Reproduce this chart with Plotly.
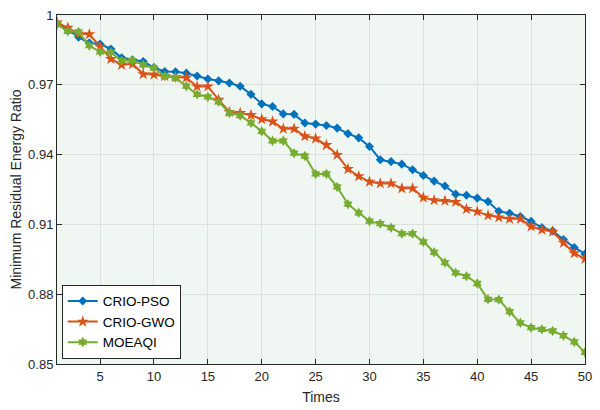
import plotly.graph_objects as go

times = list(range(1, 51))

crio_pso = [0.9962, 0.9938, 0.9905, 0.9880, 0.9875, 0.9854, 0.9816, 0.9807, 0.9800, 0.9774,
            0.9757, 0.9756, 0.9750, 0.9738, 0.9725, 0.9717, 0.9708, 0.9694, 0.9659, 0.9618,
            0.9607, 0.9575, 0.9573, 0.9536, 0.9531, 0.9525, 0.9514, 0.9490, 0.9472, 0.9435,
            0.9378, 0.9370, 0.9359, 0.9335, 0.9310, 0.9286, 0.9265, 0.9230, 0.9225, 0.9213,
            0.9198, 0.9156, 0.9148, 0.9134, 0.9113, 0.9086, 0.9072, 0.9035, 0.9001, 0.8973]

crio_gwo = [0.9968, 0.9945, 0.9920, 0.9917, 0.9864, 0.9811, 0.9786, 0.9789, 0.9746, 0.9744,
            0.9737, 0.9733, 0.9730, 0.9693, 0.9693, 0.9636, 0.9583, 0.9579, 0.9570, 0.9552,
            0.9542, 0.9511, 0.9511, 0.9479, 0.9469, 0.9441, 0.9399, 0.9338, 0.9307, 0.9283,
            0.9276, 0.9276, 0.9255, 0.9255, 0.9215, 0.9204, 0.9201, 0.9197, 0.9166, 0.9155,
            0.9139, 0.9130, 0.9124, 0.9124, 0.9091, 0.9077, 0.9069, 0.9021, 0.8976, 0.8952]

moeaqi = [0.9960, 0.9930, 0.9927, 0.9868, 0.9842, 0.9839, 0.9804, 0.9804, 0.9786, 0.9772,
          0.9737, 0.9730, 0.9694, 0.9659, 0.9648, 0.9627, 0.9579, 0.9568, 0.9536, 0.9500,
          0.9459, 0.9459, 0.9406, 0.9394, 0.9317, 0.9317, 0.9261, 0.9187, 0.9150, 0.9114,
          0.9103, 0.9086, 0.9060, 0.9060, 0.9025, 0.8980, 0.8936, 0.8892, 0.8877, 0.8846,
          0.8778, 0.8777, 0.8725, 0.8677, 0.8656, 0.8649, 0.8642, 0.8622, 0.8595, 0.8550]

series_names = ["CRIO-PSO", "CRIO-GWO", "MOEAQI"]
colors = ["#0072BD", "#D95319", "#77AC30"]
symbols = ["diamond", "star", "hexagram"]
sizes = [7, 9, 8]

x_ticks = [5, 10, 15, 20, 25, 30, 35, 40, 45, 50]
y_ticks = [0.85, 0.88, 0.91, 0.94, 0.97, 1.0]
y_tick_labels = ["0.85", "0.88", "0.91", "0.94", "0.97", "1"]

FONT = "Liberation Sans, Arial, sans-serif"

fig = go.Figure()
for name, ys, c, s, sz in zip(series_names, [crio_pso, crio_gwo, moeaqi], colors, symbols, sizes):
    fig.add_trace(go.Scatter(
        x=times, y=ys, name=name, mode="lines+markers",
        line=dict(color=c, width=2),
        marker=dict(symbol=s, size=sz, color=c, line=dict(width=0)),
    ))

axis_common = dict(
    showline=True, linecolor="#262626", linewidth=1, mirror="ticks",
    ticks="inside", ticklen=5, tickcolor="#262626",
    showgrid=True, gridcolor="#dfdfdf", gridwidth=1,
    zeroline=False,
    tickfont=dict(family=FONT, size=13, color="#262626"),
)

fig.update_xaxes(
    range=[1, 50], tickvals=x_ticks,
    title=dict(text="Times", font=dict(family=FONT, size=14, color="#262626"), standoff=9),
    **axis_common,
)
fig.update_yaxes(
    range=[0.85, 1.0], tickvals=y_ticks, ticktext=y_tick_labels,
    title=dict(text="Minimum Residual Energy Ratio", font=dict(family=FONT, size=14, color="#262626"), standoff=3),
    **axis_common,
)

fig.update_layout(
    width=600, height=410,
    margin=dict(l=57, r=8, t=10, b=46),
    paper_bgcolor="white",
    plot_bgcolor="#f0f6f2",
    font=dict(family=FONT, color="#262626"),
    legend=dict(
        x=0.009, y=0.015, xanchor="left", yanchor="bottom",
        bgcolor="white", bordercolor="#262626", borderwidth=1,
        font=dict(family=FONT, size=13.5, color="#000000"),
        itemwidth=30, tracegroupgap=0,
    ),
    showlegend=True,
)

# remove the default 8px page margin so the 600x410 figure fills the window
fig.write_html(
    "out.html",
    config={"displayModeBar": False},
    post_script="document.body.style.margin='0';",
)
